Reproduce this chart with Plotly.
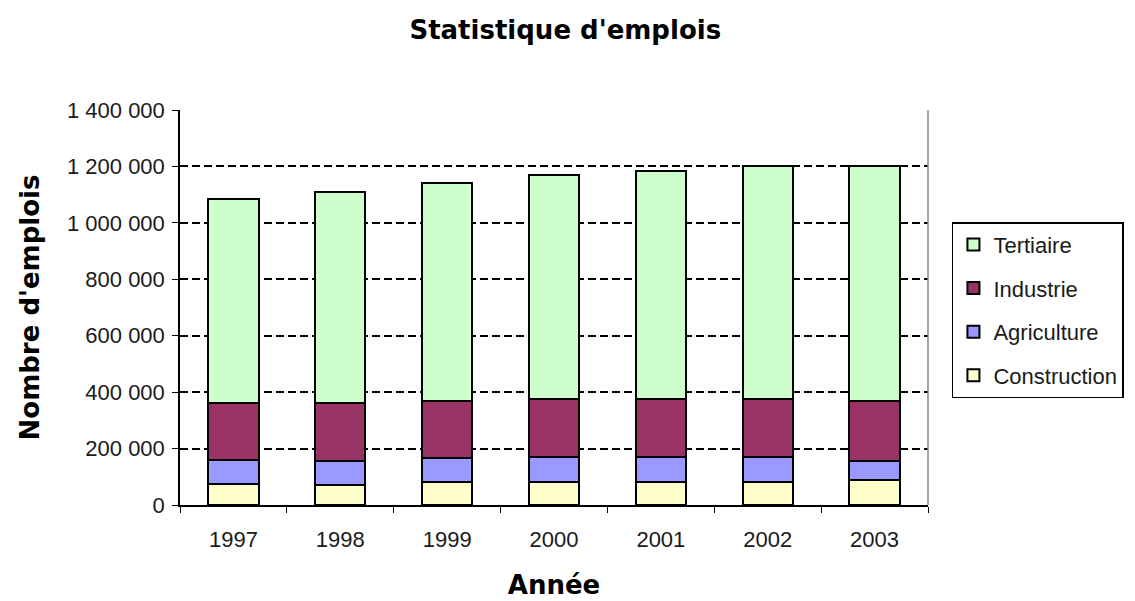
import plotly.graph_objects as go

years = ["1997", "1998", "1999", "2000", "2001", "2002", "2003"]
construction = [73000, 71000, 80000, 80000, 80000, 80000, 89000]
agriculture = [87000, 86000, 86000, 89000, 89000, 89000, 68000]
industrie = [203000, 204000, 203000, 208000, 207000, 207000, 210000]
tertiaire = [723000, 749000, 771000, 793000, 807000, 824000, 833000]

series = [
    ("Construction", construction, "#FFFFCC", 4),
    ("Agriculture", agriculture, "#9999FF", 3),
    ("Industrie", industrie, "#993366", 2),
    ("Tertiaire", tertiaire, "#CCFFCC", 1),
]

y_ticks = [0, 200000, 400000, 600000, 800000, 1000000, 1200000, 1400000]
grid_ticks = [200000, 400000, 600000, 800000, 1000000, 1200000]

fig = go.Figure()
for name, vals, col, rank in series:
    fig.add_trace(go.Bar(
        x=years, y=vals, name=name, legendgroup=name, legendrank=rank,
        marker=dict(color=col, line=dict(color="black", width=2)),
    ))

# invisible trace carrying the gridline axis
fig.add_trace(go.Scatter(x=years, y=[None] * len(years), yaxis="y2",
                         showlegend=False, hoverinfo="skip"))

tick_family = "Liberation Sans, Arial, sans-serif"
title_family = "DejaVu Sans, Verdana, sans-serif"

fig.update_layout(
    width=1135, height=601,
    barmode="stack", bargap=0.53,
    paper_bgcolor="white", plot_bgcolor="white",
    separators=", ",
    margin=dict(l=172, r=215, t=102, b=104, autoexpand=False),
    title=dict(text="<b>Statistique d'emplois</b>", x=0.491, xref="container",
               xanchor="center", y=0.963, yref="container", yanchor="middle",
               font=dict(family=title_family, size=26, color="black")),
    font=dict(family=tick_family, size=22, color="#1a1a1a"),
    xaxis=dict(
        type="category", showline=True, linecolor="black", linewidth=1.5,
        ticks="outside", ticklen=6, tickcolor="black", tickson="boundaries",
        ticklabelstandoff=14,
        showgrid=False,
        title=dict(text="<b>Année</b>",
                   font=dict(family=title_family, size=26, color="black"),
                   standoff=25),
        tickfont=dict(size=22),
    ),
    yaxis=dict(
        range=[0, 1400000], tickvals=y_ticks, tickformat=",d",
        showline=True, linecolor="black", linewidth=1.5,
        ticks="outside", ticklen=6, tickcolor="black", showgrid=False,
        ticklabelstandoff=3,
        zeroline=False,
        title=dict(text="<b>Nombre d'emplois</b>",
                   font=dict(family=title_family, size=26, color="black"),
                   standoff=20),
        tickfont=dict(size=22),
    ),
    yaxis2=dict(
        range=[0, 1400000], overlaying="y", side="left", tickvals=grid_ticks,
        showticklabels=False, ticks="", showgrid=True, gridcolor="black",
        gridwidth=1.5, griddash="8px,4px", zeroline=False, showline=False,
    ),
    legend=dict(
        x=1.032, y=0.716, xanchor="left", yanchor="top",
        traceorder="grouped", tracegroupgap=12,
        bordercolor="black", borderwidth=1.5, bgcolor="white",
        font=dict(size=22, color="#1a1a1a"),
    ),
    shapes=[dict(type="line", xref="paper", yref="paper", x0=1, x1=1, y0=0, y1=1,
                 line=dict(color="#888888", width=1.5))],
)

fig.write_html("out.html")
